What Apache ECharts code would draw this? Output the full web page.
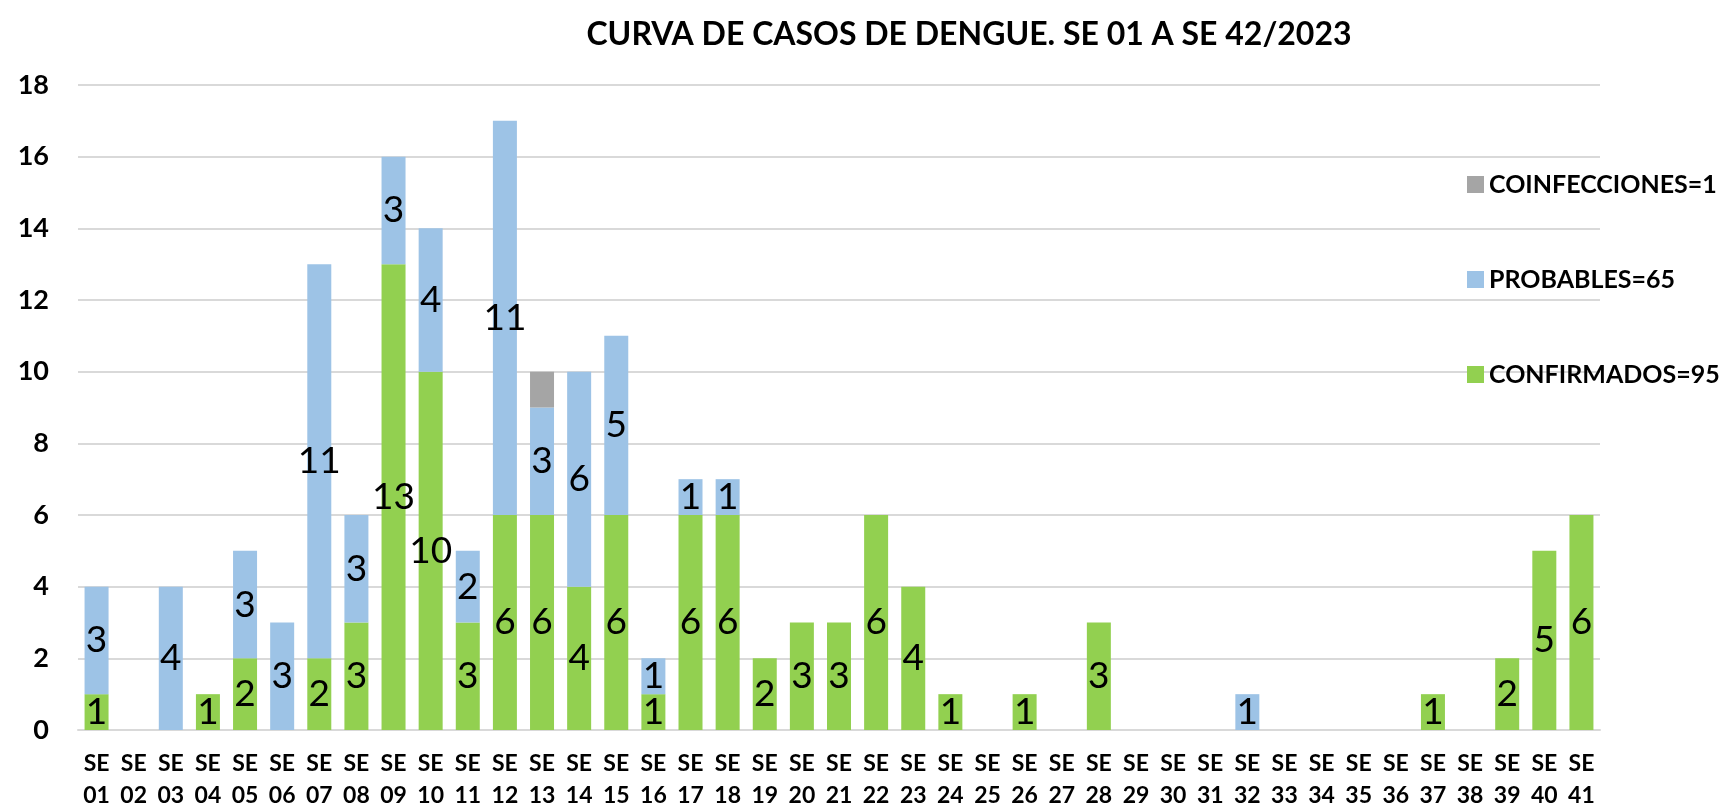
<!DOCTYPE html>
<html>
<head>
<meta charset="utf-8">
<script src="https://cdn.jsdelivr.net/npm/echarts@6/dist/echarts.min.js"></script>
<style>
html,body{margin:0;padding:0;background:#fff;}
#chart{width:1726px;height:809px;}
</style>
</head>
<body>
<div id="chart"></div>
<script>
const categories = ['01','02','03','04','05','06','07','08','09','10','11','12','13','14','15','16','17','18','19','20','21','22','23','24','25','26','27','28','29','30','31','32','33','34','35','36','37','38','39','40','41'];
const confirmados = [1,0,0,1,2,0,2,3,13,10,3,6,6,4,6,1,6,6,2,3,3,6,4,1,0,1,0,3,0,0,0,0,0,0,0,0,1,0,2,5,6];
const probables   = [3,0,4,0,3,3,11,3,3,4,2,11,3,6,5,1,1,1,0,0,0,0,0,0,0,0,0,0,0,0,0,1,0,0,0,0,0,0,0,0,0];
const coinfecciones = [0,0,0,0,0,0,0,0,0,0,0,0,1,0,0,0,0,0,0,0,0,0,0,0,0,0,0,0,0,0,0,0,0,0,0,0,0,0,0,0,0];
const seriesNames = ['CONFIRMADOS=95','PROBABLES=65','COINFECCIONES=1'];
const titleText = 'CURVA DE CASOS DE DENGUE. SE 01 A SE 42/2023';
const yTicks = {min:0, max:18, interval:2};

const FONT = 'Lato';
const chart = echarts.init(document.getElementById('chart'), null, {renderer:'canvas'});
const labelCfg = {
  show: true, position: 'inside', color: '#000', fontFamily: FONT, fontSize: 37,
  formatter: p => (p.value ? String(p.value) : '')
};
chart.setOption({
  animation: false,
  title: {
    text: titleText, left: 964, top: 14, textAlign: 'center',
    textStyle: {fontFamily: FONT, fontWeight: 'bold', fontSize: 32, color: '#000'}
  },
  legend: {
    orient: 'vertical', left: 1462, top: 167,
    data: [seriesNames[2], seriesNames[1], seriesNames[0]],
    itemWidth: 17, itemHeight: 17, itemGap: 70, icon: 'rect',
    textStyle: {fontFamily: FONT, fontWeight: 'bold', fontSize: 25, color: '#000', lineHeight: 20, padding:[0,0,0,0]}
  },
  grid: {left: 78, right: 126, top: 85, bottom: 79, containLabel: false, outerBoundsMode: 'none'},
  xAxis: {
    type: 'category',
    data: categories,
    axisTick: {show: false},
    axisLine: {lineStyle: {color: '#D9D9D9', width: 2}},
    axisLabel: {
      interval: 0, margin: 18, color: '#000', fontFamily: FONT, fontWeight: 'bold', fontSize: 23, lineHeight: 32,
      formatter: v => 'SE\n' + v
    }
  },
  yAxis: {
    type: 'value', min: yTicks.min, max: yTicks.max, interval: yTicks.interval,
    axisLine: {show: false}, axisTick: {show: false},
    splitLine: {lineStyle: {color: '#D9D9D9', width: 2}},
    axisLabel: {color: '#000', fontFamily: FONT, fontWeight: 'bold', fontSize: 27, margin: 29}
  },
  series: [
    {name: seriesNames[0], type: 'bar', stack: 'a', data: confirmados, barWidth: 24,
     itemStyle: {color: '#92D050'}, label: labelCfg},
    {name: seriesNames[1], type: 'bar', stack: 'a', data: probables, barWidth: 24,
     itemStyle: {color: '#9DC3E6'}, label: labelCfg},
    {name: seriesNames[2], type: 'bar', stack: 'a', data: coinfecciones, barWidth: 24,
     itemStyle: {color: '#A5A5A5'}, label: {show: false}}
  ]
});
</script>
</body>
</html>
